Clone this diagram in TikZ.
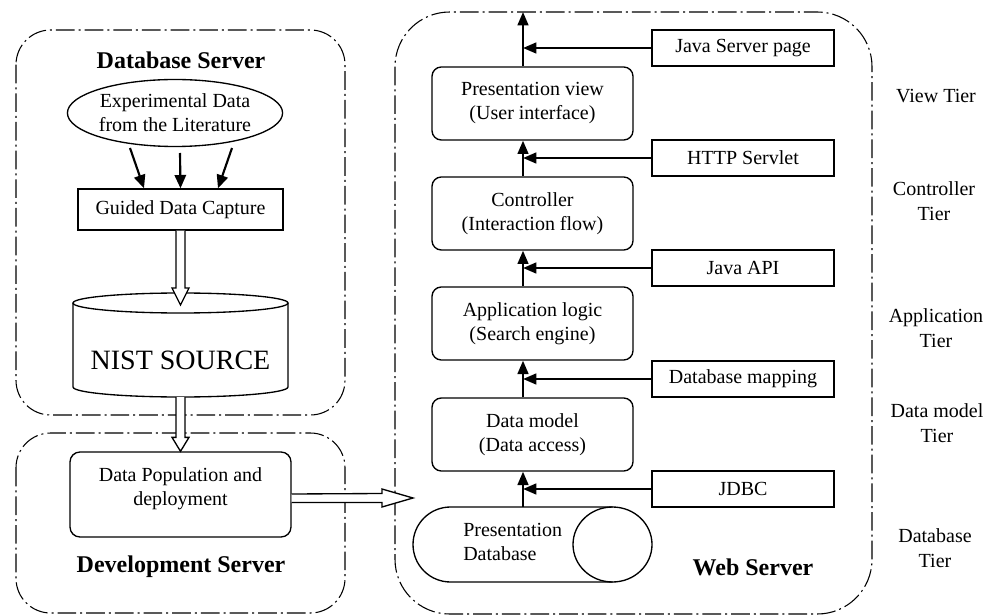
\documentclass[tikz,border=0pt]{standalone}
\usepackage{fontspec}
\setmainfont{Liberation Serif}
\usetikzlibrary{arrows.meta,calc,shapes.geometric}
\begin{document}
\begin{tikzpicture}[x=0.75pt,y=-0.75pt,
  every node/.style={font=\fontsize{15}{18}\selectfont, inner sep=0pt, align=center},
  dashbox/.style={draw, line width=0.8pt, dash pattern=on 14pt off 3pt on 1.5pt off 3pt},
  title/.style={font=\fontsize{18}{21}\bfseries\selectfont},
  box/.style={draw, line width=1pt},
  rbox/.style={draw, line width=1pt, rounded corners=7pt, minimum width=150.75pt, minimum height=54.75pt},
  side/.style={draw, line width=1pt, minimum width=136.5pt, minimum height=27pt},
  tier/.style={font=\fontsize{15}{19}\selectfont},
  arr/.style={line width=1.8pt, -{Triangle[length=10pt,width=8pt]}},
  thinarr/.style={line width=1.6pt, -{Triangle[length=10pt,width=8.5pt]}},
  hollow/.style={draw, line width=1pt, fill=white, line join=miter}
]
\useasboundingbox (0,0) rectangle (984,616);

% dashed containers
\draw[dashbox, rounded corners=26pt] (16,30) rectangle (345,415);
\draw[dashbox, rounded corners=26pt] (16,433) rectangle (345,613);
\draw[dashbox, rounded corners=41pt] (395,12) rectangle (872,614);

% titles
\node[title] (dbst) at (181,60) {Database Server};
\node[title] (devt) at (181,567) {Development Server};
\node[title] (webt) at (753,567) {Web Server};

% database server content
\node[draw, ellipse, line width=1pt, minimum width=147pt, minimum height=50.25pt] (exp) at (175,113) {Experimental Data\\from the Literature};
\node[box, minimum width=153.75pt, minimum height=30.75pt] (gdc) at (180.5,209.5) {Guided Data Capture};
\draw[thinarr] ($(exp.center)+(-45,35)$) -- ($(gdc.north)+(-36.5,0)$);
\draw[thinarr] ($(exp.center)+(5,40)$) -- ($(gdc.north)+(0,0)$);
\draw[thinarr] ($(exp.center)+(57,35)$) -- ($(gdc.north)+(37.5,0)$);

% NIST cylinder
\draw[line width=1pt, fill=white] (73,303) -- (73,387) arc[start angle=180, end angle=360, x radius=80.625pt, y radius=7.5pt] -- (288,303);
\draw[line width=1pt] (180.5,303) ellipse [x radius=80.625pt, y radius=7.5pt];
\node[font=\fontsize{21}{24}\selectfont] (nist) at (180.5,360) {NIST SOURCE};
\coordinate (nisttop) at (180.5,305);
\coordinate (nistbot) at (180.5,397);

% development server content
\node[draw, line width=1pt, rounded corners=7.5pt, minimum width=165.75pt, minimum height=63.75pt] (dpd) at (180.5,494.5) {};
\node (dpdt) at (180.5,489) {Data Population and\\deployment};

% hollow arrows
\draw[hollow] ($(gdc.south)+(-4.5,0)$) -- ($(nisttop)+(-4.5,-17)$) -- ($(nisttop)+(-8.5,-17)$) -- (nisttop) -- ($(nisttop)+(8.5,-17)$) -- ($(nisttop)+(4.5,-17)$) -- ($(gdc.south)+(4.5,0)$);
\draw[hollow] ($(nistbot)+(-4.5,0)$) -- ($(dpd.north)+(-4.5,-14)$) -- ($(dpd.north)+(-8.5,-14)$) -- (dpd.north) -- ($(dpd.north)+(8.5,-14)$) -- ($(dpd.north)+(4.5,-14)$) -- ($(nistbot)+(4.5,0)$);
\coordinate (webin) at (413,498);
\draw[hollow] ($(dpd.east)+(0,-0.5)$) -- ($(webin)+(-31,-4.5)$) -- ($(webin)+(-31,-9)$) -- (webin) -- ($(webin)+(-31,9)$) -- ($(webin)+(-31,4.5)$) -- ($(dpd.east)+(0,8)$);

% web server tiers
\node[rbox] (pv) at (532.5,103.5) {Presentation view\\(User interface)};
\node[rbox] (ctl) at (532.5,213.5) {Controller\\(Interaction flow)};
\node[rbox] (app) at (532.5,323.5) {Application logic\\(Search engine)};
\node[rbox] (dm) at (532.5,434.5) {Data model\\(Data access)};

% presentation database capsule
\node[minimum width=179.25pt, minimum height=56.25pt] (pdb) at (532.5,544.5) {};
\draw[line width=1pt] (612.5,507) -- (450.5,507) arc[start angle=90, end angle=270, x radius=28.125pt, y radius=28.125pt] -- (612.5,582);
\draw[line width=1pt] (612.5,544.5) ellipse [x radius=29.625pt, y radius=28.125pt];
\node[anchor=west, align=left] (pdbt) at (463,542) {Presentation\\Database};

% side boxes
\node[side] (jsp) at (743,48) {Java Server page};
\node[side] (http) at (743,158) {HTTP Servlet};
\node[side] (api) at (743,268) {Java API};
\node[side] (dbm) at (743,379) {Database mapping};
\node[side] (jdbc) at (743,489) {JDBC};

% vertical arrows
\coordinate (top) at (523,12);
\draw[arr] (pv.north -| top) -- (top);
\draw[arr] (ctl.north -| top) -- (pv.south -| top);
\draw[arr] (app.north -| top) -- (ctl.south -| top);
\draw[arr] (dm.north -| top) -- (app.south -| top);
\draw[arr] (pdb.north -| top) -- (dm.south -| top);

% horizontal arrows
\draw[arr] (jsp.west) -- (jsp.west -| top);
\draw[arr] (http.west) -- (http.west -| top);
\draw[arr] (api.west) -- (api.west -| top);
\draw[arr] (dbm.west) -- (dbm.west -| top);
\draw[arr] (jdbc.west) -- (jdbc.west -| top);

% tier labels
\node[tier] (t1) at (936,96) {View Tier};
\node[tier] (t2) at (934,201) {Controller\\Tier};
\node[tier] (t3) at (936,328) {Application\\Tier};
\node[tier] (t4) at (937,423) {Data model\\Tier};
\node[tier] (t5) at (935,548) {Database\\Tier};
\end{tikzpicture}
\end{document}
